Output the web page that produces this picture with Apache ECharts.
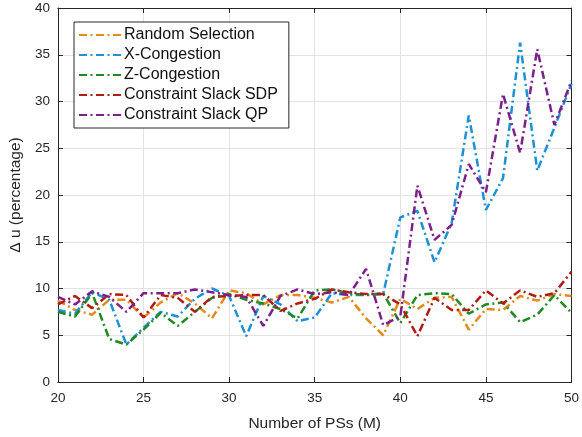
<!DOCTYPE html>
<html>
<head>
<meta charset="utf-8">
<script src="https://cdn.jsdelivr.net/npm/echarts@6/dist/echarts.min.js"></script>
<style>
  html, body { margin: 0; padding: 0; background: #fff; }
  #chart { width: 582px; height: 437px; }
</style>
</head>
<body>
<div id="chart"></div>
<script>
// Number of PSs (M)
const psCounts = [20,21,22,23,24,25,26,27,28,29,30,31,32,33,34,35,36,37,38,39,40,41,42,43,44,45,46,47,48,49,50];

// Delta u (percentage) for each selection method
const randomSelection = [8.7,7.7,7.2,8.8,8.8,6.9,8.5,9.5,8.4,6.8,9.8,9.5,8.3,9.3,9.3,9.0,8.5,9.1,6.8,5.0,8.9,7.8,9.0,9.1,5.6,7.8,7.7,9.2,8.7,9.4,9.2];
const xCongestion = [7.7,7.3,9.6,8.8,4.0,5.8,7.5,7.0,8.9,10.0,9.2,4.9,9.2,8.3,6.5,6.9,9.5,9.3,9.3,9.4,17.6,18.3,12.8,17.0,28.5,18.4,21.8,36.3,22.6,27.2,31.9];
const zCongestion = [7.5,7.0,9.5,4.6,4.0,5.6,7.4,6.0,7.5,9.0,9.4,8.8,8.4,7.8,6.8,9.8,9.9,9.5,9.3,9.5,6.3,9.3,9.5,9.4,7.3,8.3,8.5,6.4,7.2,9.3,7.4];
const slackSDP = [8.3,9.2,7.9,9.4,9.3,6.9,9.3,9.0,7.5,9.1,9.2,9.3,9.3,7.6,8.4,8.9,9.9,9.6,9.4,9.4,8.3,4.9,9.0,7.7,7.7,9.8,8.4,9.8,9.1,9.5,11.8];
const slackQP = [9.1,8.3,9.7,9.1,7.5,9.5,9.5,9.5,9.9,9.6,9.3,9.1,6.0,9.2,9.9,9.4,9.6,9.3,12.1,6.1,7.0,21.0,15.2,16.8,23.3,20.3,30.8,24.5,35.6,27.5,32.2];

const seriesNames = ['Random Selection','X-Congestion','Z-Congestion','Constraint Slack SDP','Constraint Slack QP'];
const seriesData = [randomSelection, xCongestion, zCongestion, slackSDP, slackQP];
const seriesColors = ['#e38a1c','#1d91d6','#1f8a22','#b01c14','#7b1f8c'];

const FONT = 'Liberation Sans, Arial, Helvetica, sans-serif';
const AXIS_COLOR = '#262626';
const dashDot = [8, 3.5, 2, 3.5];

const chart = echarts.init(document.getElementById('chart'), null, { renderer: 'canvas' });

const boxAxis = (extra) => Object.assign({
  type: 'value',
  axisLine: { show: true, onZero: false, lineStyle: { color: AXIS_COLOR, width: 1 } },
  axisTick: { show: true, inside: true, length: 5, lineStyle: { color: AXIS_COLOR } },
  axisLabel: { show: false },
  splitLine: { show: false }
}, extra);

chart.setOption({
  animation: false,
  backgroundColor: '#ffffff',
  textStyle: { fontFamily: FONT },
  grid: { left: 55.5, right: 6, top: 8, bottom: 49, containLabel: false },
  legend: {
    data: seriesNames,
    orient: 'vertical',
    left: 74,
    top: 22,
    padding: [5, 11, 5, 4],
    itemWidth: 42,
    itemHeight: 14,
    itemGap: 4,
    backgroundColor: '#ffffff',
    borderColor: AXIS_COLOR,
    borderWidth: 1,
    borderRadius: 0,
    itemStyle: { opacity: 0 },
    textStyle: { fontSize: 16, color: '#111', fontFamily: FONT, padding: [0, 0, 0, -2] }
  },
  xAxis: [
    boxAxis({
      min: 20, max: 50, interval: 5,
      position: 'bottom',
      name: 'Number of PSs (M)',
      nameLocation: 'middle',
      nameGap: 34,
      nameTextStyle: { fontSize: 15.5, color: '#262626', fontFamily: FONT },
      axisLabel: { show: true, fontSize: 13.5, color: '#262626', margin: 9, fontFamily: FONT },
      splitLine: { show: true, lineStyle: { color: '#e3e3e3', width: 1 } }
    }),
    boxAxis({ min: 20, max: 50, interval: 5, position: 'top' })
  ],
  yAxis: [
    boxAxis({
      min: 0, max: 40, interval: 5,
      position: 'left',
      name: 'Δ u (percentage)',
      nameLocation: 'middle',
      nameGap: 30,
      nameTextStyle: { fontSize: 15.5, color: '#262626', fontFamily: FONT },
      axisLabel: { show: true, fontSize: 13.5, color: '#262626', margin: 8, fontFamily: FONT },
      splitLine: { show: true, lineStyle: { color: '#e3e3e3', width: 1 } }
    }),
    boxAxis({ min: 0, max: 40, interval: 5, position: 'right' })
  ],
  series: seriesNames.map((name, i) => ({
    name,
    type: 'line',
    data: psCounts.map((m, k) => [m, seriesData[i][k]]),
    showSymbol: false,
    symbol: 'none',
    color: seriesColors[i],
    lineStyle: { color: seriesColors[i], width: 2.5, type: dashDot },
    z: 2 + i
  }))
});
</script>
</body>
</html>
